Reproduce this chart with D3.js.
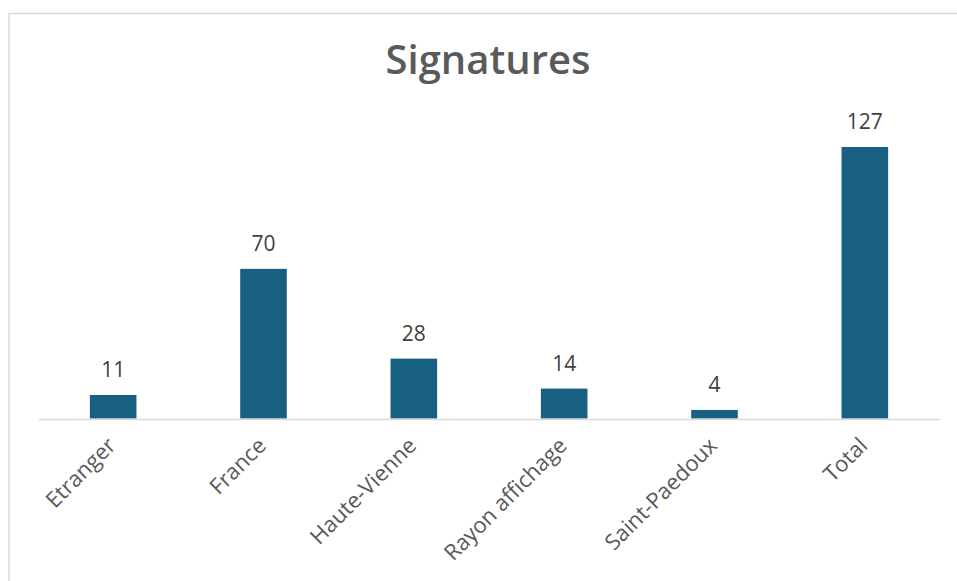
<!DOCTYPE html>
<html>
<head>
<meta charset="utf-8">
<script src="https://cdn.jsdelivr.net/npm/d3@7"></script>
<style>
  html, body { margin: 0; padding: 0; background: #fff; }
  svg { display: block; }
</style>
</head>
<body>
<svg id="chart" width="957" height="581"></svg>
<script>
const categories = ["Etranger", "France", "Haute-Vienne", "Rayon affichage", "Saint-Paedoux", "Total"];
const values = [11, 70, 28, 14, 4, 127];
const title = "Signatures";

const W = 957, H = 581;
const svg = d3.select("#chart");

// chart area border
svg.append("rect")
  .attr("x", 9).attr("y", 13.5)
  .attr("width", 980).attr("height", 620)
  .attr("fill", "#fff")
  .attr("stroke", "#d9d9d9").attr("stroke-width", 1.5);

const x = d3.scaleBand()
  .domain(categories)
  .range([38, 940])
  .paddingInner(0.69)
  .paddingOuter(0.345);

const y = d3.scaleLinear()
  .domain([0, 127])
  .range([418.5, 147]);

// title
svg.append("text")
  .attr("x", 488).attr("y", 74)
  .attr("text-anchor", "middle")
  .attr("font-family", "Open Sans, sans-serif")
  .attr("font-size", 40)
  .attr("font-weight", 600)
  .attr("fill", "#5a5a5a")
  .text(title);

// bars
svg.append("g").selectAll("rect")
  .data(categories)
  .join("rect")
  .attr("x", d => x(d))
  .attr("width", x.bandwidth())
  .attr("y", (d, i) => y(values[i]))
  .attr("height", (d, i) => y(0) - y(values[i]))
  .attr("fill", "#176082");

// axis line
const axis = d3.axisBottom(x).tickSize(0).tickFormat("");
const gx = svg.append("g").attr("transform", `translate(0,${y(0) + 0.5})`).call(axis);
gx.select(".domain").attr("stroke", "#d9d9d9").attr("stroke-width", 1.5);

// category labels
svg.append("g").selectAll("text")
  .data(categories)
  .join("text")
  .attr("transform", d => `translate(${x(d) + x.bandwidth() / 2 + 4},${447}) rotate(-45)`)
  .attr("text-anchor", "end")
  .attr("font-family", "Open Sans, sans-serif")
  .attr("font-size", 22)
  .attr("fill", "#595959")
  .text(d => d);

// value labels
svg.append("g").selectAll("text")
  .data(categories)
  .join("text")
  .attr("x", d => x(d) + x.bandwidth() / 2)
  .attr("y", (d, i) => y(values[i]) - 18)
  .attr("text-anchor", "middle")
  .attr("font-family", "Open Sans, sans-serif")
  .attr("font-size", 21)
  .attr("fill", "#404040")
  .text((d, i) => values[i]);
</script>
</body>
</html>
